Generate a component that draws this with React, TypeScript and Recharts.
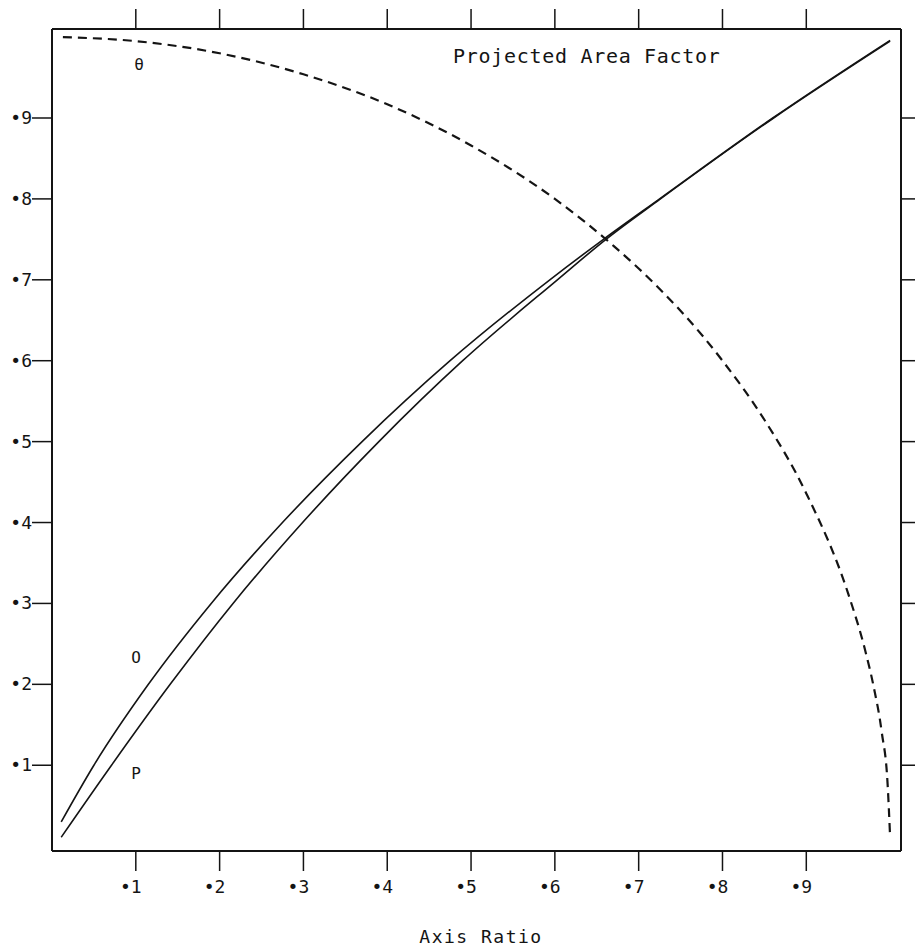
import { LineChart, Line, XAxis, YAxis } from 'recharts';

// axis ticks (drawn as "•1" ... "•9")
const xTicks = [0.1, 0.2, 0.3, 0.4, 0.5, 0.6, 0.7, 0.8, 0.9];
const yTicks = [0.1, 0.2, 0.3, 0.4, 0.5, 0.6, 0.7, 0.8, 0.9];

// O curve (upper solid)
const oblateX = [0.011, 0.05, 0.115, 0.19, 0.275, 0.37, 0.475, 0.594, 0.658, 0.725, 0.86, 1.0];
const oblateY = [0.03, 0.1, 0.2, 0.3, 0.4, 0.5, 0.6, 0.7, 0.75, 0.8, 0.9, 0.996];

// P curve (lower solid)
const prolateX = [0.011, 0.071, 0.141, 0.216, 0.299, 0.39, 0.49, 0.603, 0.661, 0.726, 0.861, 1.0];
const prolateY = [0.011, 0.1, 0.2, 0.3, 0.4, 0.5, 0.6, 0.7, 0.75, 0.8, 0.9, 0.995];

// θ curve (dashed)
const thetaX = [0.013, 0.1, 0.2, 0.3, 0.4, 0.5, 0.6, 0.67, 0.7, 0.8, 0.85, 0.9, 0.95, 0.97, 0.98, 0.99, 0.997, 0.9999];
const thetaY = [1.0, 0.995, 0.98, 0.954, 0.917, 0.866, 0.8, 0.742, 0.714, 0.6, 0.527, 0.436, 0.312, 0.243, 0.199, 0.141, 0.077, 0.014];

const oblate = oblateX.map((x, i) => ({ x, y: oblateY[i] }));
const prolate = prolateX.map((x, i) => ({ x, y: prolateY[i] }));
const theta = thetaX.map((x, i) => ({ x, y: thetaY[i] }));

const INK = '#141414';
const FONT = '"DejaVu Sans Mono", monospace';
const X_DOMAIN: [number, number] = [0, 1.013];
const Y_DOMAIN: [number, number] = [-0.006, 1.01];

const fmt = (v: number) => '•' + Math.round(v * 10);

const BottomTick = (props: any) => (
  <text x={props.x - 5} y={props.y} dy={20} textAnchor="middle" fontFamily={FONT} fontSize={18} fill={INK}>
    {fmt(props.payload.value)}
  </text>
);

const LeftTick = (props: any) => (
  <text x={props.x + 2} y={props.y} dy={6} textAnchor="end" fontFamily={FONT} fontSize={18} fill={INK}>
    {fmt(props.payload.value)}
  </text>
);

const NoTick = () => <g />;

const axisLine = { stroke: INK, strokeWidth: 2 };
const tickLine = { stroke: INK, strokeWidth: 1.5 };

export default function App() {
  return (
    <div style={{ position: 'relative', width: 915, height: 940 }}>
      <LineChart width={915} height={940} data={oblate} margin={{ top: 0, right: 0, bottom: 0, left: 0 }}>
        <XAxis
          xAxisId="bottom"
          orientation="bottom"
          type="number"
          dataKey="x"
          domain={X_DOMAIN}
          ticks={xTicks}
          interval={0}
          allowDataOverflow
          height={97}
          tickSize={20}
          axisLine={axisLine}
          tickLine={tickLine}
          tick={<BottomTick />}
        />
        <XAxis
          xAxisId="top"
          orientation="top"
          type="number"
          dataKey="x"
          domain={X_DOMAIN}
          ticks={xTicks}
          interval={0}
          allowDataOverflow
          height={21}
          tickSize={20}
          axisLine={axisLine}
          tickLine={tickLine}
          tick={<NoTick />}
        />
        <YAxis
          yAxisId="left"
          orientation="left"
          type="number"
          domain={Y_DOMAIN}
          ticks={yTicks}
          interval={0}
          allowDataOverflow
          width={44}
          tickSize={20}
          axisLine={axisLine}
          tickLine={tickLine}
          tick={<LeftTick />}
        />
        <YAxis
          yAxisId="right"
          orientation="right"
          type="number"
          domain={Y_DOMAIN}
          ticks={yTicks}
          interval={0}
          allowDataOverflow
          width={22}
          tickSize={20}
          axisLine={axisLine}
          tickLine={tickLine}
          tick={<NoTick />}
        />
        <Line
          xAxisId="bottom"
          yAxisId="left"
          data={theta}
          dataKey="y"
          type="monotone"
          stroke={INK}
          strokeWidth={2.2}
          strokeDasharray="9 6"
          dot={false}
          isAnimationActive={false}
        />
        <Line
          xAxisId="bottom"
          yAxisId="left"
          data={oblate}
          dataKey="y"
          type="monotone"
          stroke={INK}
          strokeWidth={1.6}
          dot={false}
          isAnimationActive={false}
        />
        <Line
          xAxisId="bottom"
          yAxisId="left"
          data={prolate}
          dataKey="y"
          type="monotone"
          stroke={INK}
          strokeWidth={1.6}
          dot={false}
          isAnimationActive={false}
        />
      </LineChart>
      <svg
        width={915}
        height={940}
        style={{ position: 'absolute', left: 0, top: 0, pointerEvents: 'none' }}
        fontFamily={FONT}
        fill={INK}
      >
        <text x={445} y={55} fontSize={20} letterSpacing={0.7}>Projected Area Factor</text>
        <text x={131} y={62} fontSize={16} textAnchor="middle">θ</text>
        <text x={128} y={655} fontSize={16} textAnchor="middle">O</text>
        <text x={128} y={771} fontSize={16} textAnchor="middle">P</text>
        <text x={473} y={935} fontSize={18} letterSpacing={1.5} textAnchor="middle">Axis Ratio</text>
      </svg>
    </div>
  );
}
